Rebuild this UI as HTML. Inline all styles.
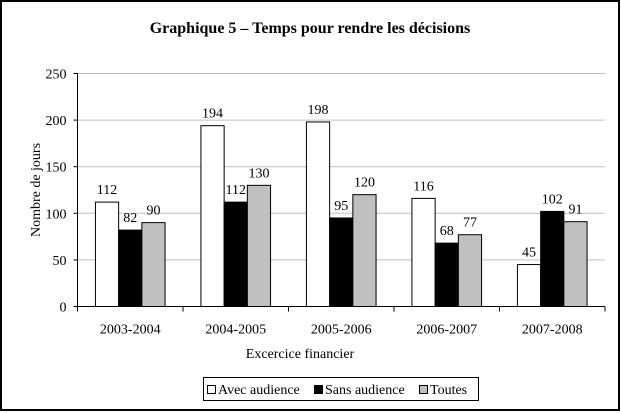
<!DOCTYPE html>
<html><head><meta charset="utf-8"><style>
html,body{margin:0;padding:0;background:#fff}
svg{display:block;font-family:"Liberation Serif",serif}
</style></head><body>
<svg width="621" height="413">
<rect x="1" y="1" width="618" height="409" fill="#fff" stroke="#000" stroke-width="2"/>
<text x="310" y="33" text-anchor="middle" font-size="16" font-weight="bold">Graphique 5 – Temps pour rendre les décisions</text>
<g id="plot"></g>
<text x="300" y="358" text-anchor="middle" font-size="14">Excercice financier</text>
<text transform="translate(40,190) rotate(-90)" text-anchor="middle" font-size="14">Nombre de jours</text>
<g>
<rect x="203.5" y="377.5" width="275" height="23" fill="#fff" stroke="#000"/>
<rect x="207.5" y="385.5" width="8" height="8" fill="#fff" stroke="#000"/>
<text x="218" y="394" font-size="14">Avec audience</text>
<rect x="314.5" y="385.5" width="8" height="8" fill="#000" stroke="#000"/>
<text x="325" y="394" font-size="14">Sans audience</text>
<rect x="419.5" y="385.5" width="8" height="8" fill="#c0c0c0" stroke="#000"/>
<text x="430" y="394" font-size="14">Toutes</text>
</g>
</svg>
<script>
const categories=["2003-2004","2004-2005","2005-2006","2006-2007","2007-2008"];
const avec=[112,194,198,116,45];
const sans=[82,112,95,68,102];
const toutes=[90,130,120,77,91];
const yTicks=[0,50,100,150,200,250];
const NS="http://www.w3.org/2000/svg";
const X0=77.5,X1=605,Y0=306.5,Y1=73.5,YMAX=250;
const cw=(X1-X0)/categories.length;
const bw=cw*0.22;
function y(v){return Y0-(v/YMAX)*(Y0-Y1);}
function xBar(i,s){return X0+i*cw+cw*0.17+s*bw;}
const g=document.getElementById('plot');
function mk(t,a){const e=document.createElementNS(NS,t);for(const k in a)e.setAttribute(k,a[k]);g.appendChild(e);return e;}
yTicks.forEach(v=>{
  if(v>0){const l=mk('line',{x1:X0,x2:X1,y1:y(v),y2:y(v),stroke:'#c0c0c0'});
  
  }
  const tk=mk('line',{x1:X0-4,x2:X0,y1:y(v),y2:y(v),stroke:'#000'});
  
  
  const t=mk('text',{x:X0-11,y:y(v)+5,'text-anchor':'end','font-size':'14'});
  t.textContent=v;
  
  
});
const series=[[avec,'#fff','avec'],[sans,'#000','sans'],[toutes,'#c0c0c0','toutes']];
categories.forEach((c,i)=>{
  series.forEach(([arr,col,nm],s)=>{
    const v=arr[i];
    const r=mk('rect',{x:xBar(i,s),y:y(v),width:bw,height:Y0-y(v),fill:col,stroke:'#000'});
    
    
    const t=mk('text',{x:xBar(i,s)+bw/2,y:y(v)-8,'text-anchor':'middle','font-size':'14'});
    t.textContent=v;
    
    
  });
  const t=mk('text',{x:X0+(i+0.5)*cw,y:Y0+27,'text-anchor':'middle','font-size':'14'});
  t.textContent=c;
  
  
});
for(let i=0;i<=categories.length;i++){
  const tk=mk('line',{x1:X0+i*cw,x2:X0+i*cw,y1:Y0,y2:Y0+5,stroke:'#000'});
  
  
}
const xa=mk('line',{x1:X0,x2:X1,y1:Y0,y2:Y0,stroke:'#000'});


const ya=mk('line',{x1:X0,x2:X0,y1:Y1,y2:Y0,stroke:'#000'});


</script>
</body></html>
